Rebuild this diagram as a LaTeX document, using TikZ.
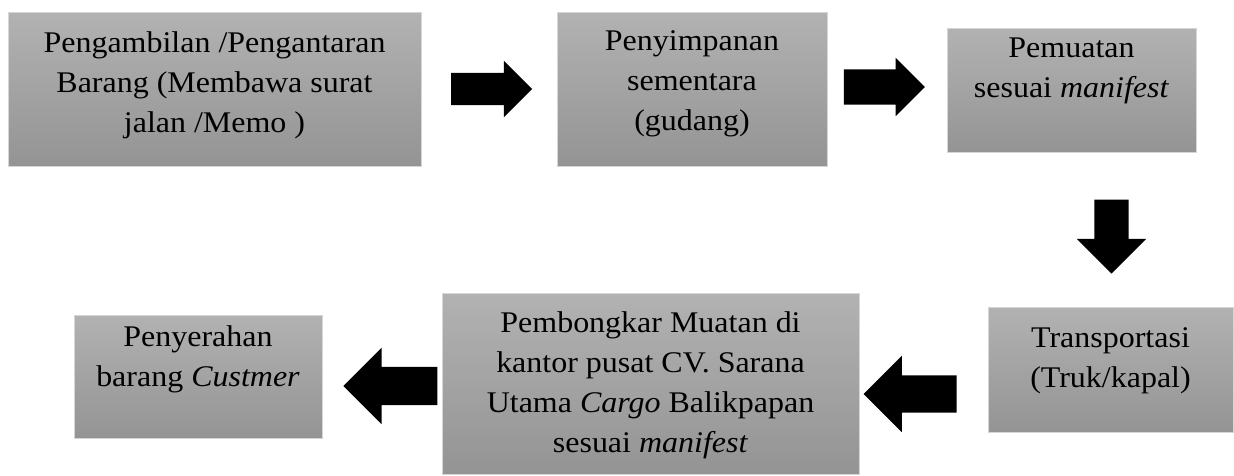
\documentclass[tikz,border=0pt]{standalone}
\usepackage{fontspec}
\setmainfont{Liberation Serif}[FakeStretch=1.066]
\usetikzlibrary{shapes.arrows}
\definecolor{boxtop}{RGB}{178,178,178}
\definecolor{boxbottom}{RGB}{148,148,148}
\definecolor{boxedge}{RGB}{214,214,214}
\tikzset{
	stepbox/.style={draw=boxedge, line width=0.8pt, top color=boxtop,
		bottom color=boxbottom, inner sep=0pt},
	steptext/.style={align=center, inner sep=0pt,
		font=\fontsize{30}{40}\selectfont},
	fatarrow/.style={single arrow, fill=black, inner xsep=0pt,
		single arrow tip angle=90},
}

\begin{document}
\begin{tikzpicture}[x=1pt, y=-1pt]
				\useasboundingbox (0,0) rectangle (1234,475);
				% top row: pick up, storage, loading
				\node[stepbox, minimum width=413pt, minimum height=154pt] (b1) at (214.5,89) {};
				\node[steptext] (t1) at (214.5,85.2)
				{Pengambilan /Pengantaran\\Barang (Membawa surat\\jalan /Memo )};
				\node[stepbox, minimum width=270pt, minimum height=154pt] (b2) at (692,89) {};
				\node[steptext] (t2) at (692,84)
				{Penyimpanan\\sementara\\(gudang)};
				\node[stepbox, minimum width=249pt, minimum height=124pt] (b3) at (1071.5,90) {};
				\node[steptext] (t3) at (1071.5,71.3)
				{Pemuatan\\sesuai \textit{manifest}};
				% bottom row: transport, unloading, hand over
				\node[stepbox, minimum width=245pt, minimum height=125pt] (b4) at (1110.5,369.5) {};
				\node[steptext] (t4) at (1110.5,360.5)
				{Transportasi\\(Truk/kapal)};
				\node[stepbox, minimum width=417pt, minimum height=181pt] (b5) at (650.5,383.5) {};
				\node[steptext] (t5) at (650.5,385.3)
				{Pembongkar Muatan di\\kantor pusat CV. Sarana\\Utama \textit{Cargo} Balikpapan\\sesuai \textit{manifest}};
				\node[stepbox, minimum width=248pt, minimum height=123pt] (b6) at (198,376.5) {};
				\node[steptext] (t6) at (198,359)
				{Penyerahan\\barang \textit{Custmer}};
				% block arrows between the steps
				\node[fatarrow, minimum height=81pt, inner ysep=16pt,
				single arrow head extend=12pt] (a1) at (483.5,89) {};
				\node[fatarrow, minimum height=81pt, inner ysep=17.5pt,
				single arrow head extend=11.5pt] (a2) at (875.5,87) {};
				\node[fatarrow, minimum height=74pt, inner ysep=17pt,
				single arrow head extend=17.5pt, rotate=-90] (a3) at (1111.5,228) {};
				\node[fatarrow, minimum height=93pt, inner ysep=18.5pt,
				single arrow head extend=19.5pt, rotate=180] (a4) at (919.5,394) {};
				\node[fatarrow, minimum height=94pt, inner ysep=19pt,
				single arrow head extend=19pt, rotate=180] (a5) at (400,386) {};
			\end{tikzpicture}
\end{document}
